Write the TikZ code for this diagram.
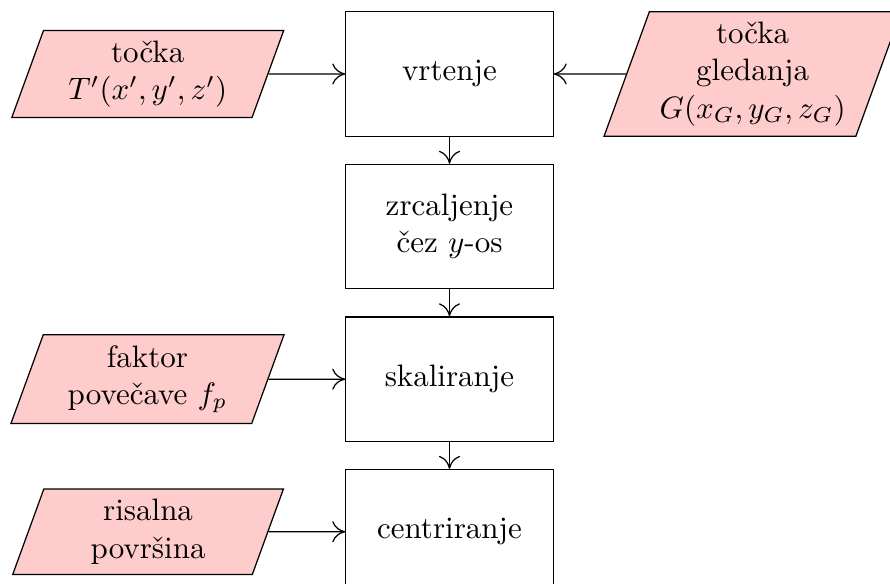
\documentclass[tikz,border=0pt]{standalone}
\usetikzlibrary{shapes.geometric, positioning, arrows.meta}
\definecolor{vhodroza}{RGB}{255, 204, 204}

\begin{document}
\begin{tikzpicture}[
  >={To[length=4.2pt, width=6.8pt]},
  korak/.style={draw, minimum width=2.35cm, minimum height=1.41cm, align=center},
  vhod/.style={draw, fill=vhodroza, trapezium, trapezium left angle=70, trapezium right angle=110, align=center}
]
  % Okvir slike
  \clip (-5.097, 0.839) rectangle (4.995, -5.783);

  % Koraki
  \node[korak] (vrtenje) at (0, 0) {vrtenje};
  \node[korak, below=0.306cm of vrtenje] (zrcaljenje) {zrcaljenje\\čez $y$-os};
  \node[korak, below=0.306cm of zrcaljenje] (skaliranje) {skaliranje};
  \node[korak, below=0.306cm of skaliranje] (centriranje) {centriranje};

  % Vhodni podatki
  \node[vhod, text width=2.13cm, left=0.87cm of vrtenje] (tocka) {točka\\$T'(x', y', z')$};
  \node[vhod, right=0.82cm of vrtenje] (gledanje) {točka\\gledanja\\$G(x_G, y_G, z_G)$};
  \node[vhod, text width=2.13cm, left=0.87cm of skaliranje] (faktor) {faktor\\povečave $f_p$};
  \node[vhod, text width=2.13cm, left=0.87cm of centriranje] (povrsina) {risalna\\površina};

  % Povezave
  \draw[->] (vrtenje) -- (zrcaljenje);
  \draw[->] (zrcaljenje) -- (skaliranje);
  \draw[->] (skaliranje) -- (centriranje);
  \draw[->] (tocka) -- (vrtenje);
  \draw[->] (gledanje) -- (vrtenje);
  \draw[->] (faktor) -- (skaliranje);
  \draw[->] (povrsina) -- (centriranje);
\end{tikzpicture}
\end{document}
